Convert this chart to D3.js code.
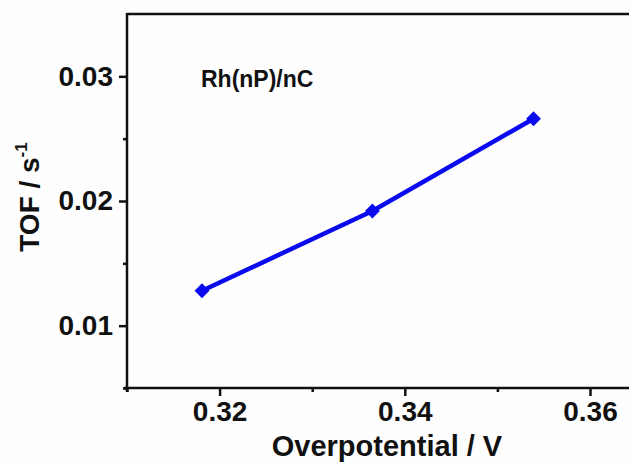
<!DOCTYPE html>
<html>
<head>
<meta charset="utf-8">
<script src="https://cdn.jsdelivr.net/npm/d3@7"></script>
<style>
  body { margin: 0; background: #fefefe; }
  svg { display: block; }
  text { font-family: "Liberation Sans", Arial, sans-serif; font-weight: bold; fill: #111; }
</style>
</head>
<body>
<svg id="chart" width="629" height="468"></svg>
<script>
// data
const overpotential = [0.3181, 0.3365, 0.3539];
const tof = [0.0128, 0.0192, 0.0266];
const xTicks = [0.32, 0.34, 0.36];
const xMinorTicks = [0.31, 0.33, 0.35];
const yTicks = [0.01, 0.02, 0.03];
const yMinorTicks = [0.005, 0.015, 0.025];
const seriesLabel = 'Rh(nP)/nC';

const svg = d3.select('#chart');
const width = +svg.attr('width');

// plot area
const plotLeft = 127, plotBottom = 388, plotTop = 14;
const x = d3.scaleLinear().domain([0.31, 0.37]).range([plotLeft, plotLeft + 6 * 92.6]);
const y = d3.scaleLinear().domain([0.005, 0.035]).range([plotBottom, plotTop]);

// frame: top line runs off the right edge
svg.append('line')
  .attr('x1', plotLeft).attr('x2', width)
  .attr('y1', plotTop).attr('y2', plotTop)
  .attr('stroke', '#111').attr('stroke-width', 2.5);

// axes
const axisStyle = g => {
  g.select('.domain').attr('stroke', '#111').attr('stroke-width', 2.5);
  g.selectAll('.tick line').attr('stroke', '#111').attr('stroke-width', 2.5);
  g.selectAll('.tick text')
    .attr('font-size', 28).attr('font-family', '"Liberation Sans", Arial, sans-serif')
    .attr('font-weight', 'bold').attr('fill', '#111');
};

svg.append('g')
  .attr('transform', `translate(0,${plotBottom})`)
  .call(d3.axisBottom(x).tickValues(xMinorTicks).tickSize(4).tickFormat(''))
  .call(g => g.select('.domain').remove())
  .call(axisStyle);
svg.append('g')
  .attr('transform', `translate(0,${plotBottom})`)
  .call(d3.axisBottom(x).tickValues(xTicks).tickSize(8).tickPadding(5).tickFormat(d3.format('.2f')).tickSizeOuter(0))
  .call(axisStyle)
  .call(g => g.select('.domain').attr('d', `M${plotLeft - 3},0H${width}`));

svg.append('g')
  .attr('transform', `translate(${plotLeft},0)`)
  .call(d3.axisLeft(y).tickValues(yMinorTicks).tickSize(4).tickFormat(''))
  .call(g => g.select('.domain').remove())
  .call(axisStyle);
svg.append('g')
  .attr('transform', `translate(${plotLeft},0)`)
  .call(d3.axisLeft(y).tickValues(yTicks).tickSize(8).tickPadding(6).tickFormat(d3.format('.2f')).tickSizeOuter(0))
  .call(axisStyle)
  .call(g => g.select('.domain').attr('d', `M0,${plotTop - 1}V${plotBottom + 4}`));

// axis titles
svg.append('text')
  .attr('x', 387).attr('y', 456)
  .attr('text-anchor', 'middle').attr('font-size', 29)
  .text('Overpotential / V');

const yTitle = svg.append('text')
  .attr('transform', 'translate(39,197) rotate(-90)')
  .attr('text-anchor', 'middle').attr('font-size', 28);
yTitle.append('tspan').text('TOF / s');
yTitle.append('tspan').attr('font-size', 17).attr('dy', -12).text('-1');

// series label
svg.append('text')
  .attr('x', 201).attr('y', 87)
  .attr('font-size', 23)
  .text(seriesLabel);

// line and markers
const points = overpotential.map((v, i) => [v, tof[i]]);
const line = d3.line().x(d => x(d[0])).y(d => y(d[1]));

svg.append('path')
  .datum(points)
  .attr('d', line)
  .attr('fill', 'none')
  .attr('stroke', '#0a0aee')
  .attr('stroke-width', 4.5);

svg.selectAll('.marker').data(points)
  .enter().append('path')
    .attr('class', 'marker')
    .attr('transform', d => `translate(${x(d[0])},${y(d[1])})`)
    .attr('d', d3.symbol(d3.symbolDiamond2, 140))
    .attr('fill', '#0a0aee');
</script>
</body>
</html>
